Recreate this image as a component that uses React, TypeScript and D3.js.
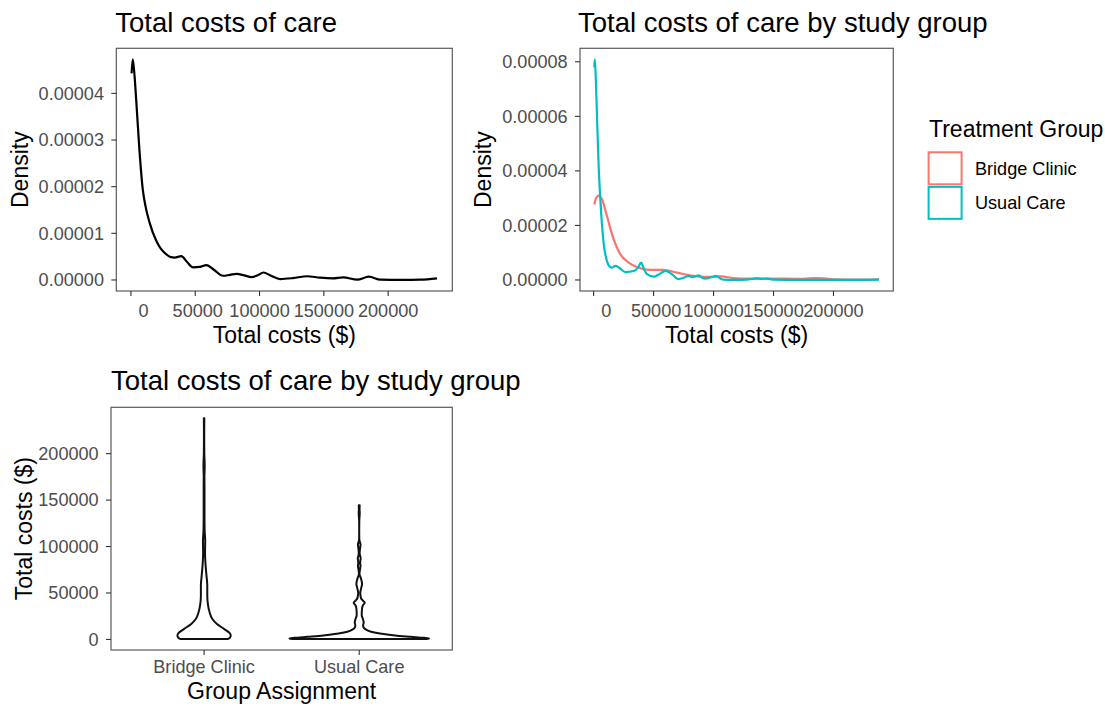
import React from "react";
import * as d3 from "d3";

const W = 1105;
const H = 706;
const FONT = "'Liberation Sans', Arial, Helvetica, sans-serif";

// Axis ticks
const costTicks = [0, 50000, 100000, 150000, 200000];
const densityTicksAll = [0, 0.00001, 0.00002, 0.00003, 0.00004];
const densityTicksGroup = [0, 0.00002, 0.00004, 0.00006, 0.00008];

// Groups
const groups = ["Bridge Clinic", "Usual Care"];
const groupColors = ["#F8766D", "#00BFC4"];

// Observed cost range (all patients) and per-group maximum
const costRange: [number, number] = [500, 238000];
const groupCostMax = [238000, 144500];

// Kernel density estimates, [total cost ($), density]
const totalDensity: [number, number][] = [
  [500, 4.43e-5], [1400, 4.73e-5], [2600, 4.45e-5], [4100, 3.86e-5], [6600, 2.79e-5],
  [9200, 1.94e-5], [11800, 1.52e-5], [14500, 1.23e-5], [19700, 8.4e-6], [23500, 6.6e-6],
  [27500, 5.5e-6], [31000, 4.9e-6], [34000, 4.8e-6], [39200, 5.1e-6], [43500, 3.9e-6],
  [48300, 2.7e-6], [53500, 2.8e-6], [58800, 3.2e-6], [64500, 2.2e-6], [71700, 9e-7],
  [77000, 1.1e-6], [82200, 1.3e-6], [88000, 1.0e-6], [93900, 6e-7], [98500, 1.0e-6],
  [103000, 1.6e-6], [109000, 9e-7], [116000, 2e-7], [126000, 4e-7], [137000, 8e-7],
  [147000, 5e-7], [157000, 3.6e-7], [165000, 5.7e-7], [176000, 6e-8], [185000, 7e-7],
  [194000, 6e-8], [210000, 0], [225000, 6e-8], [238000, 3.6e-7],
];

const bridgeDensity: [number, number][] = [
  [500, 2.77e-5], [2000, 3.0e-5], [4200, 3.09e-5], [7000, 2.95e-5], [11100, 2.34e-5],
  [16700, 1.49e-5], [22300, 9.4e-6], [29200, 6.4e-6], [37500, 4.5e-6], [47200, 3.7e-6],
  [58300, 3.7e-6], [69500, 2.7e-6], [83300, 1.5e-6], [93000, 1.1e-6], [100000, 1.2e-6],
  [106000, 1.3e-6], [116700, 7e-7], [130000, 5e-7], [141700, 5e-7], [161100, 5e-7],
  [175000, 4e-7], [185000, 7e-7], [192000, 6e-7], [200000, 2.6e-7], [220000, 1.5e-7],
  [238000, 2.6e-7],
];

const usualDensity: [number, number][] = [
  [500, 7.8e-5], [1000, 8.09e-5], [1700, 7.5e-5], [2800, 6.0e-5], [4200, 4.16e-5],
  [6100, 2.58e-5], [8300, 1.37e-5], [11100, 6.9e-6], [13500, 4.8e-6], [15300, 4.5e-6],
  [18000, 5.2e-6], [21000, 4.6e-6], [26400, 2.9e-6], [33300, 3.3e-6], [37000, 4.5e-6],
  [39500, 6.4e-6], [42000, 4.0e-6], [44500, 2.1e-6], [50000, 1.2e-6], [55000, 2.2e-6],
  [59700, 3.3e-6], [65000, 2.2e-6], [70800, 3e-7], [75500, 9e-7], [79200, 1.5e-6],
  [82000, 1.1e-6], [84700, 1.3e-6], [87500, 1.7e-6], [90000, 1.0e-6], [93100, 5e-7],
  [98000, 1.0e-6], [102200, 1.5e-6], [105500, 6e-7], [108300, 1e-7], [118000, 0],
  [127800, 1e-7], [136100, 6e-7], [140000, 4e-7], [144500, 5e-7], [150000, 1e-7],
  [170000, 0], [200000, 0], [238000, 1e-7],
];

const groupDensities = [bridgeDensity, usualDensity];

// Panel boxes
type Box = { x0: number; y0: number; x1: number; y1: number };
const P1: Box = { x0: 116.3, y0: 48.3, x1: 452.3, y1: 291 };
const P2: Box = { x0: 580, y0: 48.3, x1: 893.3, y1: 291 };
const P3: Box = { x0: 111, y0: 407.3, x1: 452.3, y1: 650 };

const expand = (lo: number, hi: number, m = 0.05): [number, number] => [
  lo - m * (hi - lo),
  hi + m * (hi - lo),
];

// R-style format(): labels padded to a common width
const padLabels = (vals: number[]) => {
  const s = vals.map((v) => String(v));
  const w = d3.max(s, (d) => d.length) || 0;
  return s.map((d) => d.padStart(w, " "));
};

const TICK_COLOR = "#333333";
const TICK_TEXT = "#4D4D4D";
const BORDER = "#5a5a5a";
const TICK_LEN = 5;
const SZ_TICK = 18.1;
const SZ_AXIS = 23;
const SZ_TITLE = 27.5;

function Frame({ p }: { p: Box }) {
  return (
    <rect
      x={p.x0}
      y={p.y0}
      width={p.x1 - p.x0}
      height={p.y1 - p.y0}
      fill="none"
      stroke={BORDER}
      strokeWidth={1.2}
    />
  );
}

function YAxis({
  p,
  scale,
  ticks,
  labels,
  title,
}: {
  p: Box;
  scale: (v: number) => number;
  ticks: number[];
  labels: string[];
  title: string;
}) {
  const maxW = d3.max(labels, (l) => l.length * 0.54 * SZ_TICK) || 0;
  const labelRight = p.x0 - TICK_LEN - 7.3;
  const titleX = labelRight - maxW - 8;
  return (
    <g>
      {ticks.map((t, i) => (
        <g key={i}>
          <line
            x1={p.x0 - TICK_LEN}
            x2={p.x0}
            y1={scale(t)}
            y2={scale(t)}
            stroke={TICK_COLOR}
            strokeWidth={1.1}
          />
          <text
            x={labelRight}
            y={scale(t)}
            dy="0.35em"
            textAnchor="end"
            fontSize={SZ_TICK}
            fill={TICK_TEXT}
          >
            {labels[i]}
          </text>
        </g>
      ))}
      <text
        transform={`translate(${titleX},${(p.y0 + p.y1) / 2}) rotate(-90)`}
        textAnchor="middle"
        fontSize={SZ_AXIS}
        fill="#000"
      >
        {title}
      </text>
    </g>
  );
}

function XAxis({
  p,
  positions,
  labels,
  title,
  labelGap,
  titleGap,
}: {
  p: Box;
  positions: number[];
  labels: string[];
  title: string;
  labelGap: number;
  titleGap: number;
}) {
  return (
    <g>
      {positions.map((x, i) => (
        <g key={i}>
          <line
            x1={x}
            x2={x}
            y1={p.y1}
            y2={p.y1 + TICK_LEN}
            stroke={TICK_COLOR}
            strokeWidth={1.1}
          />
          <text
            x={x}
            y={p.y1 + labelGap}
            textAnchor="middle"
            fontSize={SZ_TICK}
            fill={TICK_TEXT}
            xmlSpace="preserve"
            style={{ whiteSpace: "pre" }}
          >
            {labels[i]}
          </text>
        </g>
      ))}
      <text
        x={(p.x0 + p.x1) / 2}
        y={p.y1 + titleGap}
        textAnchor="middle"
        fontSize={SZ_AXIS}
        fill="#000"
      >
        {title}
      </text>
    </g>
  );
}

export default function App() {
  const costDomain = expand(costRange[0], costRange[1]);
  const costLabels = padLabels(costTicks);

  // Panel 1: all patients
  const x1 = d3.scaleLinear().domain(costDomain).range([P1.x0, P1.x1]);
  const maxAll = d3.max(totalDensity, (d) => d[1]) || 0;
  const y1 = d3.scaleLinear().domain(expand(0, maxAll)).range([P1.y1, P1.y0]);
  const line1 = d3
    .line<[number, number]>()
    .x((d) => x1(d[0]))
    .y((d) => y1(d[1]))
    .curve(d3.curveMonotoneX);

  // Panel 2: by group
  const x2 = d3.scaleLinear().domain(costDomain).range([P2.x0, P2.x1]);
  const maxGroup = d3.max(groupDensities.flat(), (d) => d[1]) || 0;
  const y2 = d3.scaleLinear().domain(expand(0, maxGroup)).range([P2.y1, P2.y0]);
  const line2 = d3
    .line<[number, number]>()
    .x((d) => x2(d[0]))
    .y((d) => y2(d[1]))
    .curve(d3.curveMonotoneX);

  // Panel 3: violins, each trimmed to its group's range
  const xv = d3.scaleLinear().domain([0.4, groups.length + 0.6]).range([P3.x0, P3.x1]);
  const yv = d3.scaleLinear().domain(costDomain).range([P3.y1, P3.y0]);
  const trimmed = groupDensities.map((dens, gi) => {
    const hi = groupCostMax[gi];
    const pts = dens.filter((d) => d[0] < hi);
    const next = dens.find((d) => d[0] >= hi);
    const prev = pts[pts.length - 1];
    if (next) {
      const t = next[0] === prev[0] ? 0 : (hi - prev[0]) / (next[0] - prev[0]);
      pts.push([hi, prev[1] + t * (next[1] - prev[1])]);
    }
    return pts;
  });
  const maxViolin = d3.max(trimmed.flat(), (d) => d[1]) || 1;
  const unit = xv(2) - xv(1);
  const halfW = (v: number) => (v / maxViolin) * 0.45 * unit;

  const densityFmt = d3.format(".5f");

  return (
    <svg
      width={W}
      height={H}
      style={{ position: "absolute", left: 0, top: 0, background: "#fff" }}
      fontFamily={FONT}
    >
      <rect x={0} y={0} width={W} height={H} fill="#fff" />

      {/* Panel 1 */}
      <text x={P1.x0 - 1} y={32} fontSize={SZ_TITLE} fill="#000">
        Total costs of care
      </text>
      <path d={line1(totalDensity) || ""} fill="none" stroke="#000" strokeWidth={2.2} />
      <Frame p={P1} />
      <YAxis
        p={P1}
        scale={y1}
        ticks={densityTicksAll}
        labels={densityTicksAll.map(densityFmt)}
        title="Density"
      />
      <XAxis
        p={P1}
        positions={costTicks.map((t) => x1(t))}
        labels={costLabels}
        title="Total costs ($)"
        labelGap={26}
        titleGap={52}
      />

      {/* Panel 2 */}
      <text x={P2.x0 - 2} y={32} fontSize={SZ_TITLE} fill="#000">
        Total costs of care by study group
      </text>
      {groupDensities.map((dens, gi) => (
        <path
          key={gi}
          d={line2(dens) || ""}
          fill="none"
          stroke={groupColors[gi]}
          strokeWidth={2.2}
        />
      ))}
      <Frame p={P2} />
      <YAxis
        p={P2}
        scale={y2}
        ticks={densityTicksGroup}
        labels={densityTicksGroup.map(densityFmt)}
        title="Density"
      />
      <XAxis
        p={P2}
        positions={costTicks.map((t) => x2(t))}
        labels={costLabels}
        title="Total costs ($)"
        labelGap={26}
        titleGap={52}
      />

      {/* Legend */}
      <g>
        <text x={929} y={137} fontSize={SZ_AXIS} fill="#000">
          Treatment Group
        </text>
        {groups.map((g, gi) => {
          const top = 151 + gi * 34.56;
          return (
            <g key={g}>
              <rect
                x={928.6}
                y={top + 1.3}
                width={33}
                height={32}
                fill="#fff"
                stroke={groupColors[gi]}
                strokeWidth={2}
              />
              <text
                x={975}
                y={top + 17.28}
                dy="0.35em"
                fontSize={SZ_TICK}
                fill="#000"
              >
                {g}
              </text>
            </g>
          );
        })}
      </g>

      {/* Panel 3 */}
      <text x={P3.x0} y={390} fontSize={SZ_TITLE} fill="#000">
        Total costs of care by study group
      </text>
      {trimmed.map((pts, gi) => {
        const cx = xv(gi + 1);
        const area = d3
          .area<[number, number]>()
          .y((d) => yv(d[0]))
          .x0((d) => cx - halfW(d[1]))
          .x1((d) => cx + halfW(d[1]))
          .curve(d3.curveMonotoneY);
        return (
          <path
            key={gi}
            d={area(pts) || ""}
            fill="#fff"
            stroke="#111"
            strokeWidth={2}
            strokeLinejoin="round"
          />
        );
      })}
      <Frame p={P3} />
      <YAxis
        p={P3}
        scale={yv}
        ticks={costTicks}
        labels={costTicks.map(String)}
        title="Total costs ($)"
      />
      <XAxis
        p={P3}
        positions={groups.map((_, i) => xv(i + 1))}
        labels={groups}
        title="Group Assignment"
        labelGap={23}
        titleGap={49}
      />
    </svg>
  );
}
